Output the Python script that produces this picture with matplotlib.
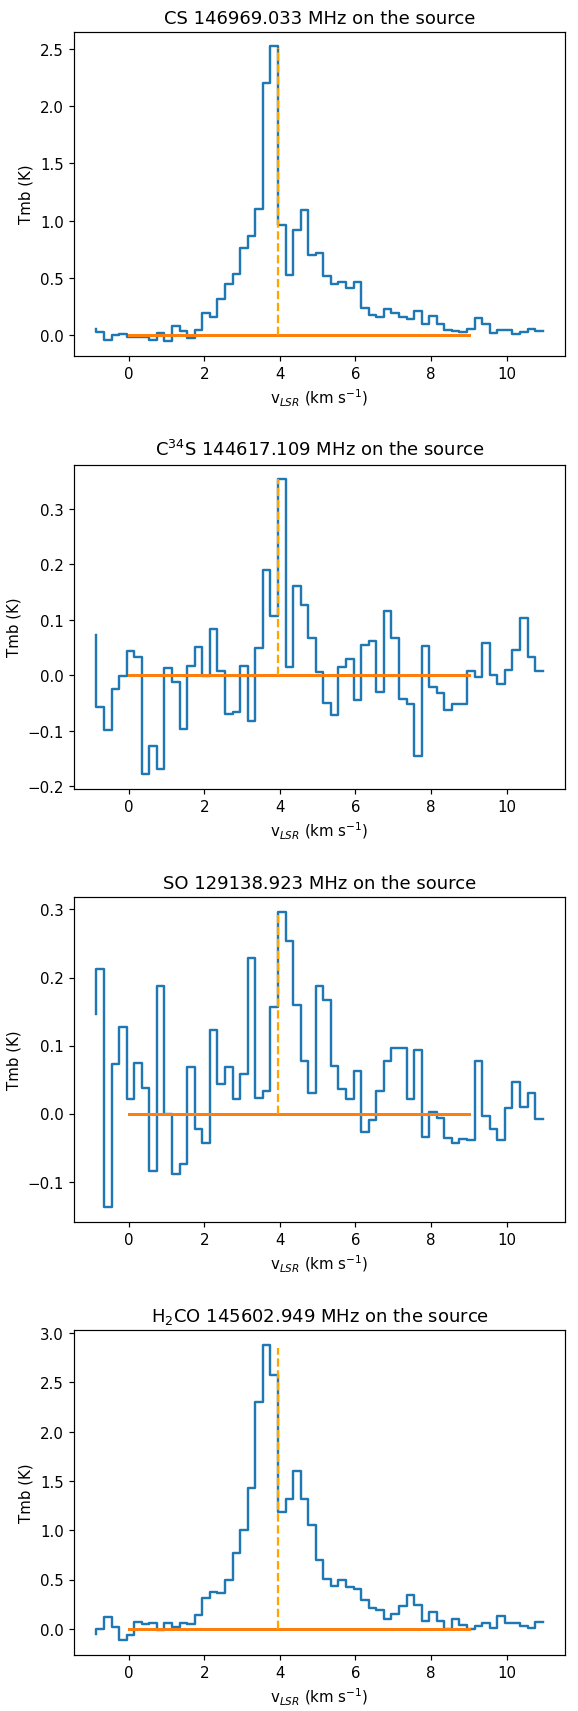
import numpy as np
from matplotlib import pyplot as plt

# velocity channels (km/s), same grid for all four lines
v = [-0.85, -0.65, -0.45, -0.25, -0.05, 0.15, 0.35, 0.55, 0.75, 0.95,
     1.15, 1.35, 1.55, 1.75, 1.95, 2.15, 2.35, 2.55, 2.75, 2.95,
     3.15, 3.35, 3.55, 3.75, 3.95, 4.15, 4.35, 4.55, 4.75, 4.95,
     5.15, 5.35, 5.55, 5.75, 5.95, 6.15, 6.35, 6.55, 6.75, 6.95,
     7.15, 7.35, 7.55, 7.75, 7.95, 8.15, 8.35, 8.55, 8.75, 8.95,
     9.15, 9.35, 9.55, 9.75, 9.95, 10.15, 10.35, 10.55, 10.75, 10.95]

tmb_cs = [0.06, 0.03, -0.04, 0.005, 0.015, -0.01, -0.01, -0.01, -0.04, 0.02,
          -0.05, 0.08, 0.04, -0.02, 0.05, 0.2, 0.16, 0.32, 0.45, 0.54,
          0.76, 0.87, 1.1, 2.2, 2.52, 0.96, 0.53, 0.92, 1.09, 0.7,
          0.72, 0.52, 0.45, 0.47, 0.41, 0.47, 0.24, 0.18, 0.16, 0.23,
          0.2, 0.16, 0.14, 0.21, 0.1, 0.17, 0.1, 0.05, 0.04, 0.03,
          0.06, 0.15, 0.1, 0.02, 0.05, 0.05, 0.01, 0.03, 0.06, 0.04]

tmb_c34s = [0.072, -0.057, -0.099, -0.025, -0.001, 0.043, 0.032, -0.178, -0.127, -0.169,
            0.013, -0.013, -0.097, 0.017, 0.051, -0.002, 0.084, 0.008, -0.069, -0.066,
            0.016, -0.082, 0.049, 0.19, 0.106, 0.353, 0.015, 0.16, 0.127, 0.068,
            0.005, -0.05, -0.072, 0.014, 0.029, -0.044, 0.054, 0.062, -0.03, 0.115,
            0.068, -0.042, -0.051, -0.145, 0.053, -0.022, -0.032, -0.062, -0.051, -0.051,
            0.007, -0.004, 0.059, 0.0, -0.015, 0.009, 0.046, 0.103, 0.033, 0.008]

tmb_so = [0.147, 0.213, -0.137, 0.073, 0.128, 0.022, 0.075, 0.038, -0.084, 0.187,
          -0.001, -0.089, -0.074, 0.068, -0.022, -0.043, 0.123, 0.044, 0.068, 0.021,
          0.058, 0.228, 0.023, 0.033, 0.157, 0.296, 0.253, 0.16, 0.077, 0.031,
          0.188, 0.167, 0.07, 0.036, 0.021, 0.062, -0.027, -0.009, 0.033, 0.078,
          0.096, 0.097, 0.021, 0.094, -0.034, 0.003, -0.006, -0.036, -0.043, -0.037,
          -0.039, 0.078, -0.003, -0.023, -0.039, 0.009, 0.046, 0.01, 0.031, -0.008]

tmb_h2co = [-0.05, 0.0, 0.12, 0.02, -0.11, -0.06, 0.07, 0.05, 0.065, -0.01,
            0.06, 0.02, 0.065, 0.05, 0.14, 0.31, 0.37, 0.365, 0.5, 0.77,
            1.0, 1.43, 2.3, 2.88, 2.58, 1.19, 1.32, 1.6, 1.32, 1.05,
            0.7, 0.51, 0.44, 0.495, 0.43, 0.4, 0.29, 0.215, 0.19, 0.105,
            0.15, 0.23, 0.345, 0.24, 0.08, 0.17, 0.08, -0.005, 0.105, 0.04,
            0.0, 0.025, 0.06, 0.01, 0.13, 0.065, 0.06, 0.03, 0.005, 0.07]

titles = ['CS 146969.033 MHz on the source',
          'C$^{34}$S 144617.109 MHz on the source',
          'SO 129138.923 MHz on the source',
          'H$_2$CO 145602.949 MHz on the source']
spectra = [tmb_cs, tmb_c34s, tmb_so, tmb_h2co]

# systemic velocity marker and its height in each panel
v_sys = 3.95
peak_mark = [2.51, 0.353, 0.292, 2.85]
# baseline range
base_v = [0, 9]

fig, axes = plt.subplots(4, 1, figsize=(5.36, 15.85), dpi=108)

for ax, title, tmb, h in zip(axes, titles, spectra, peak_mark):
    ax.step(v, tmb, where='pre', linewidth=1.6)
    ax.plot(base_v, [0, 0], linewidth=2)
    ax.vlines(v_sys, 0, h, colors='orange', linestyles='dashed')
    ax.set_title(title)
    ax.set_xlabel('v$_{LSR}$ (km s$^{-1}$)')
    ax.set_ylabel('Tmb (K)')

plt.subplots_adjust(left=0.128, right=0.976, top=0.981, bottom=0.033, hspace=0.335)
plt.savefig('out.png')
